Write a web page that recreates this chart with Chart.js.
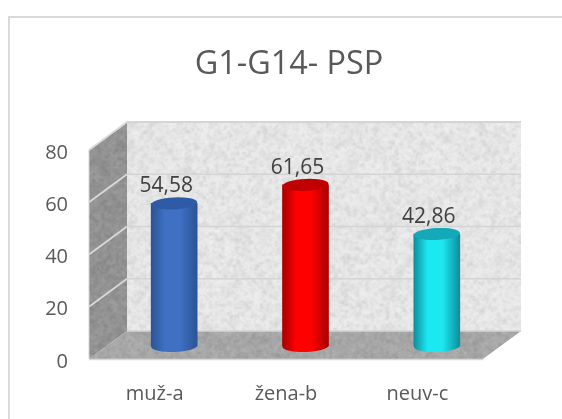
<!DOCTYPE html>
<html><head><meta charset="utf-8">
<style>html,body{margin:0;padding:0;background:#fff}#w{width:562px;height:419px;position:relative}</style>
<script src="https://cdn.jsdelivr.net/npm/chart.js@4"></script>
</head><body><div id="w"><canvas id="c" width="562" height="419"></canvas></div>
<script>
const chartTitle = 'G1-G14- PSP';
const categories = ['muž-a', 'žena-b', 'neuv-c'];
const values = [54.58, 61.65, 42.86];
const valueLabels = ['54,58', '61,65', '42,86'];
const yTicks = [0, 20, 40, 60, 80];
const barEdge = ['#2b5494', '#a80000', '#0e8e99'];
const barMid = ['#3f70c4', '#ff0000', '#1ce8f2'];
const barCap = ['#2f5ba6', '#c00000', '#14a8b8'];

const DX = 38, DY = 28, BAR_DX = 19.5, BAR_DY = -13, RY = 6, BAR_W = 46;

function hash(x, y, s) { const v = Math.sin(x * 12.9898 + y * 78.233 + s * 37.719) * 43758.5453; return v - Math.floor(v); }
function texture(w, h, base, amp, seed) {
  const mk = (cw, ch, s, a) => {
    const c = document.createElement('canvas'); c.width = cw; c.height = ch;
    const g = c.getContext('2d'), im = g.createImageData(cw, ch);
    for (let y = 0; y < ch; y++) for (let x = 0; x < cw; x++) {
      const n = hash(x, y, s) - 0.5, v = a * n, i = (y * cw + x) * 4;
      im.data[i] = im.data[i + 1] = im.data[i + 2] = v < 0 ? 0 : 255;
      im.data[i + 3] = Math.abs(v) * 255;
    }
    g.putImageData(im, 0, 0); return c;
  };
  const out = document.createElement('canvas'); out.width = w; out.height = h;
  const g = out.getContext('2d');
  g.fillStyle = base; g.fillRect(0, 0, w, h);
  g.imageSmoothingEnabled = true; g.imageSmoothingQuality = 'high';
  g.drawImage(mk(Math.ceil(w / 6), Math.ceil(h / 6), seed, amp * 0.5), 0, 0, w, h);
  g.drawImage(mk(Math.ceil(w / 3), Math.ceil(h / 3), seed + 1, amp), 0, 0, w, h);
  g.drawImage(mk(Math.ceil(w / 1.6), Math.ceil(h / 1.6), seed + 2, amp * 0.7), 0, 0, w, h);
  return out;
}
function poly(ctx, pts, tex, ox, oy) {
  ctx.save(); ctx.beginPath();
  pts.forEach((p, i) => i ? ctx.lineTo(p[0], p[1]) : ctx.moveTo(p[0], p[1]));
  ctx.closePath(); ctx.clip(); ctx.drawImage(tex, ox, oy); ctx.restore();
}
function seg(ctx, a, b, col, w) {
  ctx.strokeStyle = col; ctx.lineWidth = w; ctx.beginPath(); ctx.moveTo(a[0], a[1]); ctx.lineTo(b[0], b[1]); ctx.stroke();
}
function cylGrad(ctx, cx, i) {
  if (!isFinite(cx)) return barMid[i];
  const l = cx - BAR_W / 2, g = ctx.createLinearGradient(l, 0, l + BAR_W, 0);
  g.addColorStop(0, barEdge[i]); g.addColorStop(0.3, barMid[i]); g.addColorStop(0.62, barMid[i]); g.addColorStop(1, barEdge[i]);
  return g;
}
const room = {
  id: 'room',
  afterLayout(chart) { if (chart.titleBlock) { chart.titleBlock.left += 3; chart.titleBlock.right += 3; } },
  beforeDraw(chart) {
    const ctx = chart.ctx, a = chart.chartArea, L = a.left, R = a.right, T = a.top, B = a.bottom, y = chart.scales.y;
    seg(ctx, [9, 17], [562, 17], '#d9d9d9', 2);
    seg(ctx, [9, 16], [9, 419], '#d9d9d9', 2);
    const W = Math.ceil(R + DX - L), H = Math.ceil(B - T + DY);
    poly(ctx, [[L + DX, T - DY], [R + DX, T - DY], [R + DX, B - DY], [L + DX, B - DY]], texture(W, H, '#ececec', 0.13, 1), L, T - DY);
    poly(ctx, [[L, T], [L + DX, T - DY], [L + DX, B - DY], [L, B]], texture(W, H, '#939393', 0.13, 5), L, T - DY);
    poly(ctx, [[L, B], [L + DX, B - DY], [R + DX, B - DY], [R, B]], texture(W, H, '#a9a9a9', 0.13, 9), L, T - DY);
    yTicks.forEach(v => {
      const p = y.getPixelForValue(v);
      if (v > 0) seg(ctx, [L, p], [L + DX, p - DY], '#d9d9d9', 1.8);
      seg(ctx, [L + DX, p - DY], [R + DX, p - DY], '#d4d4d4', v === 80 ? 2 : 1.6);
    });
    seg(ctx, [L, B + 0.5], [R, B + 0.5], '#d9d9d9', 1.6);
    seg(ctx, [L, T], [L, B], '#d4d4d4', 1);
  },
  beforeDatasetsDraw(chart) {
    const ctx = chart.ctx; ctx.save(); ctx.translate(BAR_DX, BAR_DY);
    chart.getDatasetMeta(0).data.forEach((el, i) => {
      ctx.fillStyle = cylGrad(ctx, el.x, i); ctx.beginPath();
      ctx.ellipse(el.x, el.base, BAR_W / 2, RY, -0.03, 0, Math.PI * 2); ctx.fill();
    });
  },
  afterDatasetsDraw(chart) {
    const ctx = chart.ctx;
    chart.getDatasetMeta(0).data.forEach((el, i) => {
      ctx.fillStyle = barCap[i]; ctx.beginPath();
      ctx.ellipse(el.x, el.y, BAR_W / 2, RY, -0.05, 0, Math.PI * 2); ctx.fill();
      ctx.fillStyle = '#404040'; ctx.font = '21px "Open Sans"'; ctx.textAlign = 'center'; ctx.textBaseline = 'middle';
      ctx.fillText(valueLabels[i], el.x - 8, el.y - 17);
    });
    ctx.restore();
  }
};
new Chart(document.getElementById('c'), {
  type: 'bar',
  data: { labels: categories, datasets: [{
    data: values, clip: false, barThickness: BAR_W, borderWidth: 0,
    backgroundColor: c => c.dataIndex === undefined ? barMid[0] : cylGrad(c.chart.ctx, c.chart.scales.x ? c.chart.scales.x.getPixelForValue(c.dataIndex) : NaN, c.dataIndex)
  }] },
  plugins: [room],
  options: {
    responsive: false, animation: false, devicePixelRatio: 1,
    layout: { padding: { left: 0, right: 79, top: 0, bottom: 0 } },
    plugins: {
      legend: { display: false }, tooltip: { enabled: false },
      title: { display: true, text: chartTitle, fullSize: false, color: '#595959',
        font: { family: '"Open Sans"', size: 32.4, weight: 'normal' }, padding: { top: 45, bottom: 66.1 } }
    },
    scales: {
      x: { grid: { display: false }, border: { display: false },
        ticks: { color: '#595959', font: { family: '"Open Sans"', size: 20 }, padding: 15, maxRotation: 0 },
        afterFit(s) { s.height = 60; } },
      y: { min: 0, max: 80, grid: { display: false, drawTicks: false }, border: { display: false },
        afterBuildTicks(s) { s.ticks = yTicks.map(v => ({ value: v })); },
        ticks: { color: '#595959', font: { family: '"Open Sans"', size: 20 }, padding: 21, labelOffset: 3 },
        afterFit(s) { s.width = 89; } }
    }
  }
});
</script></body></html>
